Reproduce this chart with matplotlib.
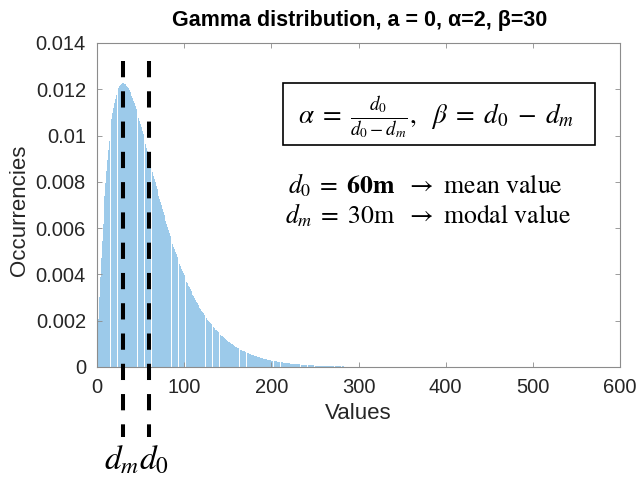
import matplotlib
matplotlib.use("Agg")
import numpy as np
import matplotlib.pyplot as plt
from matplotlib.lines import Line2D
from matplotlib.patches import Rectangle
from matplotlib.transforms import blended_transform_factory

plt.rcParams["font.family"] = ["Liberation Sans", "DejaVu Sans"]
plt.rcParams["mathtext.fontset"] = "stix"
plt.rcParams["lines.scale_dashes"] = False

# ---- data -------------------------------------------------------------
title = "Gamma distribution, a = 0, \u03b1=2, \u03b2=30"
x_label = "Values"
y_label = "Occurrencies"

d_modal = 30   # d_m, modal value [m]
d_mean = 60    # d_0, mean value [m]

# occurrence per unit value, in units of 1e-5, for values 0, 1, 2, ...
occurrences_e5 = [
    0, 107, 208, 302, 389, 470, 546, 616, 681, 741,
    796, 847, 894, 937, 975, 1011, 1043, 1072, 1098, 1121,
    1141, 1159, 1174, 1187, 1198, 1207, 1214, 1220, 1223, 1226,
    1226, 1226, 1224, 1221, 1216, 1211, 1205, 1198, 1190, 1181,
    1172, 1161, 1151, 1140, 1128, 1116, 1103, 1090, 1077, 1063,
    1049, 1035, 1021, 1006, 992, 977, 962, 947, 932, 917,
    902, 887, 872, 857, 842, 827, 813, 798, 783, 769,
    754, 740, 726, 712, 698, 684, 670, 657, 644, 631,
    618, 605, 592, 580, 568, 555, 544, 532, 520, 509,
    498, 487, 476, 466, 455, 445, 435, 425, 415, 406,
    396, 387, 378, 369, 361, 352, 344, 336, 328, 320,
    312, 305, 298, 290, 283, 276, 270, 263, 257, 250,
    244, 238, 232, 226, 221, 215, 210, 205, 200, 194,
    190, 185, 180, 175, 171, 167, 162, 158, 154, 150,
    146, 142, 139, 135, 132, 128, 125, 122, 118, 115,
    112, 109, 106, 104, 101, 98, 96, 93, 91, 88,
    86, 84, 81, 79, 77, 75, 73, 71, 69, 67,
    65, 64, 62, 60, 59, 57, 55, 54, 52, 51,
    50, 48, 47, 46, 44, 43, 42, 41, 40, 39,
    37, 36, 35, 34, 34, 33, 32, 31, 30, 29,
    28, 27, 27, 26, 25, 25, 24, 23, 23, 22,
    21, 21, 20, 20, 19, 18, 18, 17, 17, 16,
    16, 16, 15, 15, 14, 14, 13, 13, 13, 12,
    12, 12, 11, 11, 11, 10, 10, 10, 9, 9,
    9, 9, 8, 8, 8, 8, 8, 7, 7, 7,
    7, 6, 6, 6, 6, 6, 6, 5, 5, 5,
    5, 5, 5, 5, 4, 4, 4, 4, 4, 4,
    4, 4, 3, 3, 3, 3, 3, 3, 3, 3,
    3, 3, 3, 3, 2, 2, 2, 2, 2, 2,
    2, 2, 2, 2, 2, 2, 2, 2, 2, 2,
    2, 1, 1, 1, 1, 1, 1, 1, 1, 1,
    1, 1, 1, 1, 1, 1, 1, 1, 1, 1,
    1, 1, 1, 1, 1, 1, 1, 1, 1, 1,
    1, 1, 1, 1, 1, 1, 1,
]
values = np.arange(len(occurrences_e5))

x_ticks = [0, 100, 200, 300, 400, 500, 600]
x_tick_labels = ["0", "100", "200", "300", "400", "500", "600"]
y_ticks = [0, 0.002, 0.004, 0.006, 0.008, 0.01, 0.012, 0.014]
y_tick_labels = ["0", "0.002", "0.004", "0.006", "0.008", "0.01", "0.012", "0.014"]

# ---- figure -----------------------------------------------------------
W, H = 638, 483
fig = plt.figure(figsize=(W / 100, H / 100), dpi=100)


def fx(px):
    return px / W


def fy(py):
    return 1 - py / H


ax = fig.add_axes([fx(97), fy(367), fx(620) - fx(97), fy(43) - fy(367)])

heights = np.array(occurrences_e5) * 1e-5
ax.bar(values, heights, width=0.92, color="#9ccaea", linewidth=0)

ax.set_xlim(0, 600)
ax.set_ylim(0, 0.014)
ax.set_xticks(x_ticks)
ax.set_xticklabels(x_tick_labels)
ax.set_yticks(y_ticks)
ax.set_yticklabels(y_tick_labels)
ax.tick_params(direction="in", length=3.6, width=0.6, colors="#8c8c8c",
               labelcolor="#262626", labelsize=14.5, top=True, right=True,
               pad=8)
for sp in ax.spines.values():
    sp.set_color("#8c8c8c")
    sp.set_linewidth(0.8)

# titles and axis labels
fig.text(fx(360), fy(26), title, fontsize=15.5, fontweight="bold",
         ha="center", va="baseline", color="black")
fig.text(fx(358), fy(419), x_label, fontsize=16, ha="center",
         va="baseline", color="#262626")
fig.text(fx(20), fy(210), y_label, fontsize=16, rotation=90,
         ha="center", va="center", color="#262626")

# dashed markers for the modal and mean values, running past the axes
trans = blended_transform_factory(ax.transData, fig.transFigure)
for xv in (d_modal, d_mean):
    ln = Line2D([xv, xv], [fy(61), fy(437)], transform=trans, color="black",
                linewidth=2.9, dashes=(11.7, 10.1), solid_capstyle="butt",
                dash_capstyle="butt", clip_on=False, zorder=10)
    fig.add_artist(ln)

fig.text(fx(104), fy(469), r"$d_m d_0$", fontsize=24, ha="left",
         va="baseline")

# formula box
fig.add_artist(Rectangle((fx(283), fy(145)), fx(595) - fx(283),
                         fy(83) - fy(145), transform=fig.transFigure,
                         facecolor="white", edgecolor="black", linewidth=1.2,
                         zorder=5))
fig.text(fx(298), fy(118),
         r"$\alpha\;=\;\frac{d_0}{d_0 - d_m},\ \ \beta\;=\;d_0\;-\;d_m$",
         fontsize=19.5, ha="left", va="center", zorder=6)

fig.text(fx(288), fy(193),
         r"$d_0\;=\;\mathbf{%dm}\ \ \rightarrow\ \mathrm{mean\ value}$" % d_mean,
         fontsize=18.5, ha="left", va="baseline")
fig.text(fx(285), fy(223),
         r"$d_m\;=\;%d\mathrm{m}\ \ \rightarrow\ \mathrm{modal\ value}$" % d_modal,
         fontsize=18.5, ha="left", va="baseline")

fig.savefig("out.png", dpi=100)
